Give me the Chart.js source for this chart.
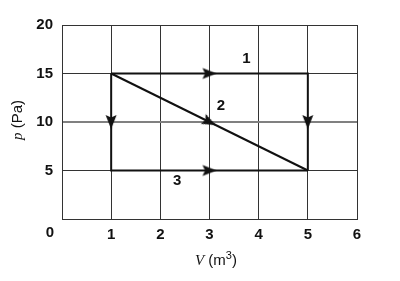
<!DOCTYPE html>
<html><head><meta charset="utf-8">
<script src="https://cdn.jsdelivr.net/npm/chart.js@4"></script>
<style>html,body{margin:0;padding:0;background:#fff}#wrap{width:400px;height:281px}</style>
</head><body><div id="wrap"><canvas id="c" width="400" height="281"></canvas></div>
<script>
// ---- data ----
const vMin = 0, vMax = 6, vStep = 1;
const pMin = 0, pMax = 20, pStep = 5;
const path1V = [1, 5, 5],  path1P = [15, 15, 5];
const path2V = [1, 5],     path2P = [15, 5];
const path3V = [1, 1, 5],  path3P = [15, 5, 5];
const arrowV  = [3, 5, 1, 3, 3];
const arrowP  = [15, 10, 10, 5, 10];
const arrowDV = [1, 0, 0, 1, 4];
const arrowDP = [0, -1, -1, 0, -10];
const pathNames = ['1', '2', '3'];
const nameV = [3.75, 3.23, 2.34];
const nameP = [16.55, 11.65, 3.92];
const xTitleVar = 'V', xTitleUnit = ' (m', xTitleSup = '3', xTitleEnd = ')';
const yTitleVar = 'p', yTitleUnit = ' (Pa)';
const originLabel = '0';

const pts = (xs, ys) => xs.map((x, i) => ({x, y: ys[i]}));

// arrowhead image (points up, centered)
const head = document.createElement('canvas');
head.width = 16; head.height = 16;
(function(){
  const g = head.getContext('2d');
  g.fillStyle = '#111';
  g.beginPath();
  g.moveTo(8, 1); g.lineTo(13.5, 15); g.lineTo(8, 12.5); g.lineTo(2.5, 15);
  g.closePath(); g.fill();
})();

const lineDs = (data) => ({
  data, showLine: true, borderColor: '#111', borderWidth: 2,
  pointRadius: 0, fill: false, tension: 0, order: 2
});

const SANS = '"Liberation Sans", Arial, sans-serif';

const textPlugin = {
  id: 'texts',
  afterDraw(chart) {
    const {ctx, scales: {x, y}} = chart;
    ctx.save();
    ctx.fillStyle = '#111';
    ctx.textBaseline = 'middle';
    ctx.textAlign = 'center';
    ctx.font = 'bold 15px ' + SANS;
    pathNames.forEach((t, i) => ctx.fillText(t, x.getPixelForValue(nameV[i]), y.getPixelForValue(nameP[i])));
    ctx.font = 'bold 15px ' + SANS;
    ctx.fillText(originLabel, x.getPixelForValue(vMin) - 12, y.getPixelForValue(pMin) + 14);
    const fa = 'italic 15px "Liberation Serif", serif';
    const fb = '15px ' + SANS;
    const fs = '11px ' + SANS;
    const drawParts = (cx, cy, parts) => {
      let total = 0;
      parts.forEach(p => { ctx.font = p.f; p.w = ctx.measureText(p.t).width; total += p.w; });
      let xx = cx - total / 2;
      ctx.textAlign = 'left';
      parts.forEach(p => { ctx.font = p.f; ctx.fillText(p.t, xx, cy + (p.dy || 0)); xx += p.w; });
      ctx.textAlign = 'center';
    };
    drawParts(216, 261, [
      {t: xTitleVar, f: fa}, {t: xTitleUnit, f: fb},
      {t: xTitleSup, f: fs, dy: -5}, {t: xTitleEnd, f: fb}
    ]);
    ctx.save();
    ctx.translate(18, 120);
    ctx.rotate(-Math.PI / 2);
    drawParts(0, 0, [{t: yTitleVar, f: fa}, {t: yTitleUnit, f: fb}]);
    ctx.restore();
    ctx.restore();
  }
};

new Chart(document.getElementById('c'), {
  type: 'scatter',
  data: {
    datasets: [
      lineDs(pts(path1V, path1P)),
      lineDs(pts(path2V, path2P)),
      lineDs(pts(path3V, path3P)),
      {
        data: pts(arrowV, arrowP), showLine: false, order: 1,
        pointStyle: head, pointRadius: 8, hoverRadius: 8,
        pointRotation: (ctx) => {
          const ch = ctx.chart, i = ctx.dataIndex;
          const sx = ch.scales.x, sy = ch.scales.y;
          if (!sx || !sy) return 0;
          const dx = sx.getPixelForValue(arrowV[i] + arrowDV[i]) - sx.getPixelForValue(arrowV[i]);
          const dy = sy.getPixelForValue(arrowP[i] + arrowDP[i]) - sy.getPixelForValue(arrowP[i]);
          return Math.atan2(dy, dx) * 180 / Math.PI + 90;
        }
      }
    ]
  },
  options: {
    responsive: false, animation: false, events: [],
    layout: {padding: {left: 0, right: 43, top: 25, bottom: 0}},
    plugins: {legend: {display: false}, tooltip: {enabled: false}},
    scales: {
      x: {
        type: 'linear', min: vMin, max: vMax,
        afterFit: (s) => { s.height = 62; },
        ticks: {stepSize: vStep, padding: 7, color: '#111',
          font: {family: SANS, size: 15, weight: 'bold'},
          callback: (v) => v === 0 ? '' : String(v)},
        grid: {color: '#333', lineWidth: 1, drawTicks: false},
        border: {color: '#333', width: 1}
      },
      y: {
        type: 'linear', min: pMin, max: pMax,
        afterFit: (s) => { s.width = 62; },
        ticks: {stepSize: pStep, padding: 9, color: '#111',
          font: {family: SANS, size: 15, weight: 'bold'},
          callback: (v) => v === 0 ? '' : String(v)},
        grid: {color: (c) => c.tick && c.tick.value === 10 ? '#808080' : '#333',
               lineWidth: (c) => c.tick && c.tick.value === 10 ? 2 : 1, drawTicks: false},
        border: {color: '#333', width: 1}
      }
    }
  },
  plugins: [textPlugin]
});
</script>
</body></html>
